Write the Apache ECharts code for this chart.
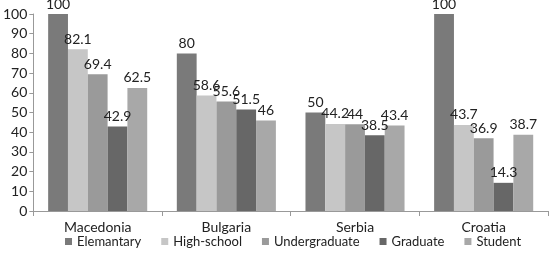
<!DOCTYPE html>
<html>
<head>
<meta charset="utf-8">
<script src="https://cdn.jsdelivr.net/npm/echarts@6/dist/echarts.min.js"></script>
<style>
  html, body { margin: 0; padding: 0; background: #fff; }
  #chart { width: 550px; height: 255px; }
</style>
</head>
<body>
<div id="chart"></div>
<script>
const countries = ["Macedonia", "Bulgaria", "Serbia", "Croatia"];
const elementary = [100, 80, 50, 100];
const highSchool = [82.1, 58.6, 44.2, 43.7];
const undergraduate = [69.4, 55.6, 44, 36.9];
const graduate = [42.9, 51.5, 38.5, 14.3];
const student = [62.5, 46, 43.4, 38.7];

const seriesDefs = [
  { name: "Elemantary", data: elementary, color: "#7a7a7a" },
  { name: "High-school", data: highSchool, color: "#c6c6c6" },
  { name: "Undergraduate", data: undergraduate, color: "#9a9a9a" },
  { name: "Graduate", data: graduate, color: "#676767" },
  { name: "Student", data: student, color: "#a8a8a8" },
];

const font = "Lato, Open Sans, sans-serif";
const chart = echarts.init(document.getElementById("chart"));
chart.setOption({
  animation: false,
  textStyle: { fontFamily: font },
  grid: { left: 30, right: 2, top: 14, bottom: 44 },
  legend: {
    top: 230,
    left: 60,
    width: 490,
    itemWidth: 7,
    itemHeight: 7,
    itemGap: 20,
    icon: "rect",
    textStyle: { fontSize: 13, color: "#222", fontFamily: font },
  },
  xAxis: {
    type: "category",
    data: countries,
    axisLine: { lineStyle: { color: "#999" } },
    axisTick: { show: true, length: 5, lineStyle: { color: "#999" } },
    axisLabel: { fontSize: 14, color: "#222", margin: 9 },
  },
  yAxis: {
    type: "value",
    min: 0,
    max: 100,
    interval: 10,
    axisLine: { show: true, lineStyle: { color: "#999" } },
    axisTick: { show: true, length: 4, lineStyle: { color: "#999" } },
    splitLine: { show: false },
    axisLabel: { fontSize: 14, color: "#222", margin: 6 },
  },
  series: seriesDefs.map((s) => ({
    name: s.name,
    type: "bar",
    data: s.data,
    barGap: "0%",
    barCategoryGap: "23%",
    itemStyle: { color: s.color },
    label: {
      show: true,
      position: "top",
      distance: 3,
      fontSize: 14,
      color: "#222",
      fontFamily: font,
    },
  })),
});
</script>
</body>
</html>
